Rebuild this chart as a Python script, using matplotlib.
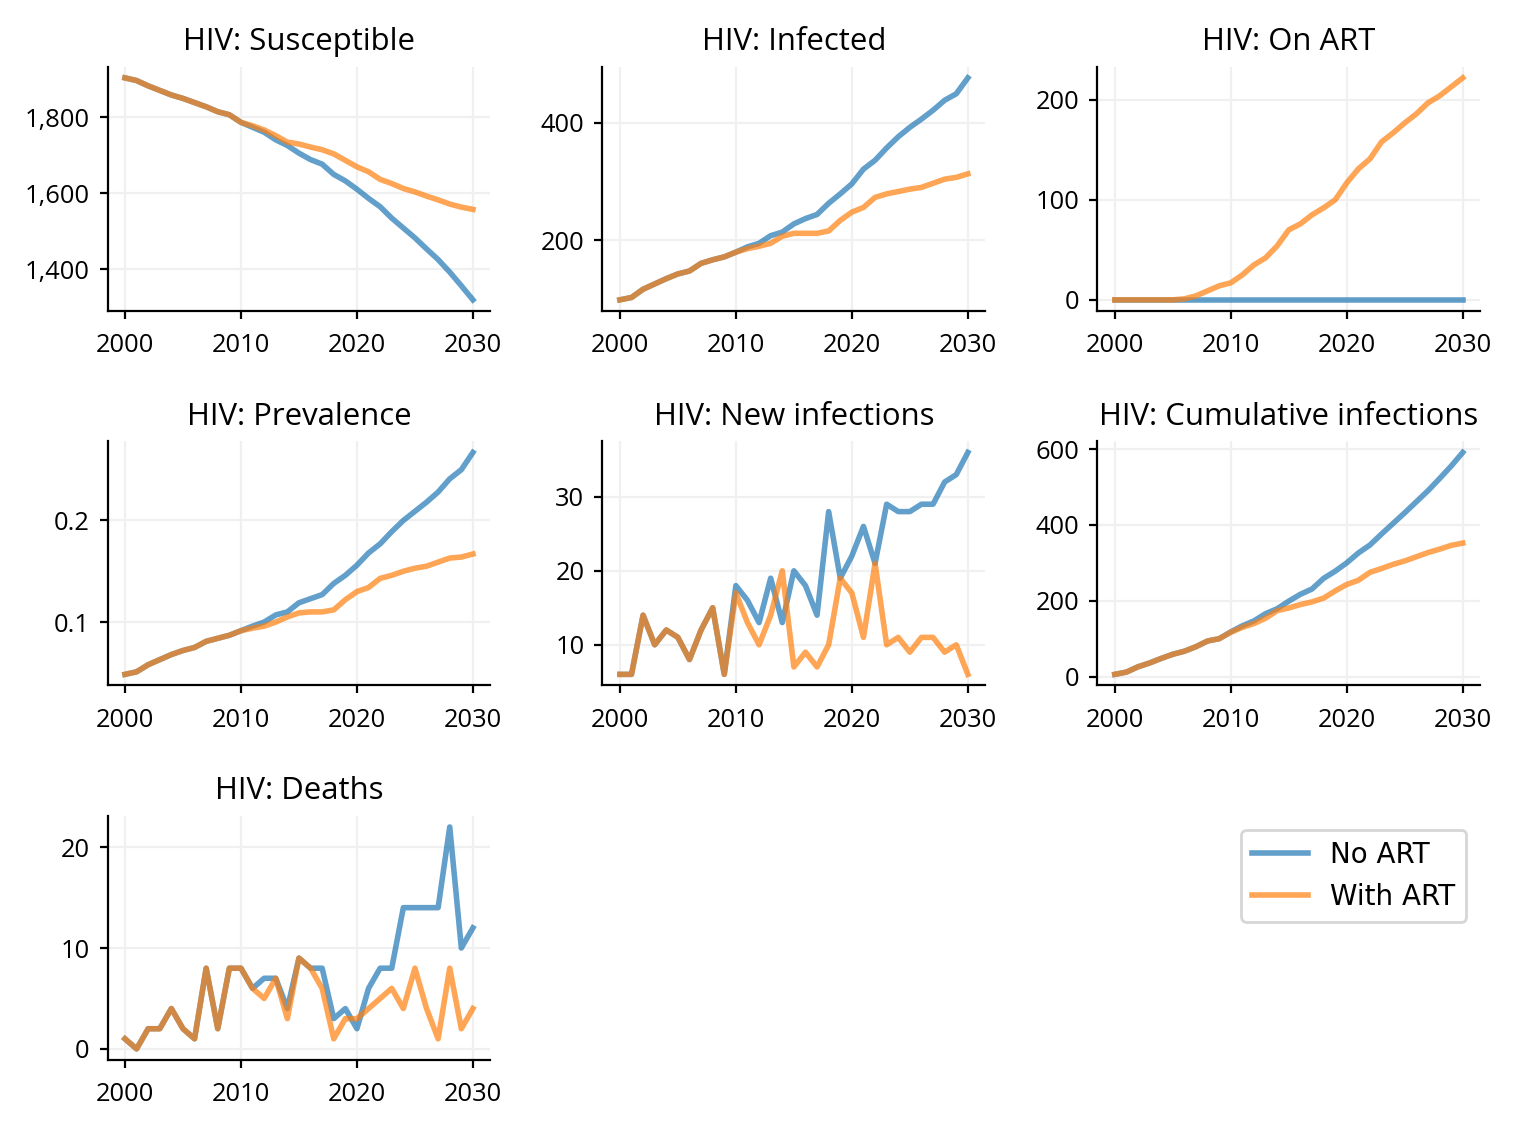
import numpy as np
import matplotlib
matplotlib.use('Agg')
import matplotlib.pyplot as plt
from matplotlib.ticker import FuncFormatter

years = np.arange(2000, 2031)

# values, 2000..2030
susc_no = [1904, 1897, 1883, 1871, 1859, 1850, 1839, 1828, 1815, 1807, 1787,
           1774, 1761, 1741, 1726, 1706, 1689, 1677, 1650, 1633, 1611,
           1587, 1565, 1535, 1509, 1483, 1454, 1426, 1393, 1357, 1320]
susc_art = [1904, 1897, 1883, 1871, 1859, 1850, 1839, 1828, 1815, 1807, 1787,
            1778, 1767, 1752, 1735, 1730, 1722, 1715, 1704, 1687, 1670,
            1657, 1637, 1626, 1613, 1604, 1593, 1583, 1572, 1564, 1558]

inf_no = [99, 103, 117, 126, 135, 143, 148, 161, 167, 172, 180,
          189, 195, 208, 214, 228, 237, 244, 263, 279, 296,
          321, 336, 357, 376, 392, 406, 421, 438, 449, 476]
inf_art = [99, 103, 117, 126, 135, 143, 148, 161, 167, 172, 180,
           186, 190, 195, 207, 212, 212, 212, 216, 234, 248,
           256, 273, 279, 283, 287, 290, 297, 304, 307, 313]

art_no = [0] * 31
art_art = [0, 0, 0, 0, 0, 0, 1, 4, 9, 14, 17,
           25, 35, 42, 54, 70, 76, 85, 92, 100, 117,
           131, 141, 158, 167, 177, 186, 197, 204, 213, 222]

prev_no = [0.0485, 0.051, 0.058, 0.063, 0.068, 0.072, 0.075, 0.081, 0.084, 0.087, 0.0915,
           0.096, 0.100, 0.107, 0.110, 0.119, 0.123, 0.127, 0.138, 0.146, 0.156,
           0.168, 0.177, 0.189, 0.200, 0.209, 0.218, 0.228, 0.241, 0.250, 0.267]
prev_art = [0.0485, 0.051, 0.058, 0.063, 0.068, 0.072, 0.075, 0.081, 0.084, 0.087, 0.0915,
            0.094, 0.096, 0.100, 0.105, 0.109, 0.110, 0.110, 0.112, 0.122, 0.130,
            0.134, 0.143, 0.146, 0.150, 0.153, 0.155, 0.159, 0.163, 0.164, 0.167]

new_no = [6, 6, 14, 10, 12, 11, 8, 12, 15, 6, 18,
          16, 13, 19, 13, 20, 18, 14, 28, 19, 22,
          26, 21, 29, 28, 28, 29, 29, 32, 33, 36]
new_art = [6, 6, 14, 10, 12, 11, 8, 12, 15, 6, 17,
           13, 10, 14, 20, 7, 9, 7, 10, 19, 17,
           11, 21, 10, 11, 9, 11, 11, 9, 10, 6]

cum_no = [6, 12, 26, 36, 48, 59, 67, 79, 94, 100, 118,
          134, 147, 166, 179, 199, 217, 231, 259, 278, 300,
          326, 347, 376, 404, 432, 461, 490, 522, 555, 591]
cum_art = [6, 12, 26, 36, 48, 59, 67, 79, 94, 100, 117,
           130, 140, 154, 174, 181, 190, 197, 207, 226, 243,
           254, 275, 285, 296, 305, 316, 327, 336, 346, 352]

death_no = [1, 0, 2, 2, 4, 2, 1, 8, 2, 8, 8,
            6, 7, 7, 4, 9, 8, 8, 3, 4, 2,
            6, 8, 8, 14, 14, 14, 14, 22, 10, 12]
death_art = [1, 0, 2, 2, 4, 2, 1, 8, 2, 8, 8,
             6, 5, 7, 3, 9, 8, 6, 1, 3, 3,
             4, 5, 6, 4, 8, 4, 1, 8, 2, 4]

titles = ['HIV: Susceptible', 'HIV: Infected', 'HIV: On ART', 'HIV: Prevalence',
          'HIV: New infections', 'HIV: Cumulative infections', 'HIV: Deaths']
series = [(susc_no, susc_art), (inf_no, inf_art), (art_no, art_art), (prev_no, prev_art),
          (new_no, new_art), (cum_no, cum_art), (death_no, death_art)]
yticks = [[1400, 1600, 1800], [200, 400], [0, 100, 200], [0.1, 0.2],
          [10, 20, 30], [0, 200, 400, 600], [0, 10, 20]]
labels = ['No ART', 'With ART']

plt.rcParams['font.family'] = ['Open Sans', 'DejaVu Sans']

fig, axes = plt.subplots(3, 3, figsize=(7.575, 5.66), dpi=200)
fig.subplots_adjust(left=0.071, right=0.977, top=0.941, bottom=0.0636,
                    wspace=0.293, hspace=0.534)
axes = axes.ravel()

fmt = FuncFormatter(lambda v, p: f'{v:,g}')
for i, ax in enumerate(axes[:7]):
    no, art = series[i]
    ax.plot(years, no, color='#1f77b4', alpha=0.7, lw=2.0, label=labels[0])
    ax.plot(years, art, color='#ff7f0e', alpha=0.7, lw=2.0, label=labels[1])
    ax.set_title(titles[i], fontsize=11.2, pad=6)
    ax.set_xticks([2000, 2010, 2020, 2030])
    ax.set_yticks(yticks[i])
    ax.yaxis.set_major_formatter(fmt)
    ax.tick_params(labelsize=9.2, width=0.8, length=3)
    ax.tick_params(axis='x', pad=5)
    ax.grid(True, color='#f0f0f0', lw=0.8)
    ax.set_axisbelow(True)
    ax.spines['top'].set_visible(False)
    ax.spines['right'].set_visible(False)

axes[7].axis('off')
axes[8].axis('off')
h, l = axes[0].get_legend_handles_labels()
axes[8].legend(h, l, loc='upper right', prop={'family': 'DejaVu Sans', 'size': 10})

plt.savefig('out.png', dpi=200)
